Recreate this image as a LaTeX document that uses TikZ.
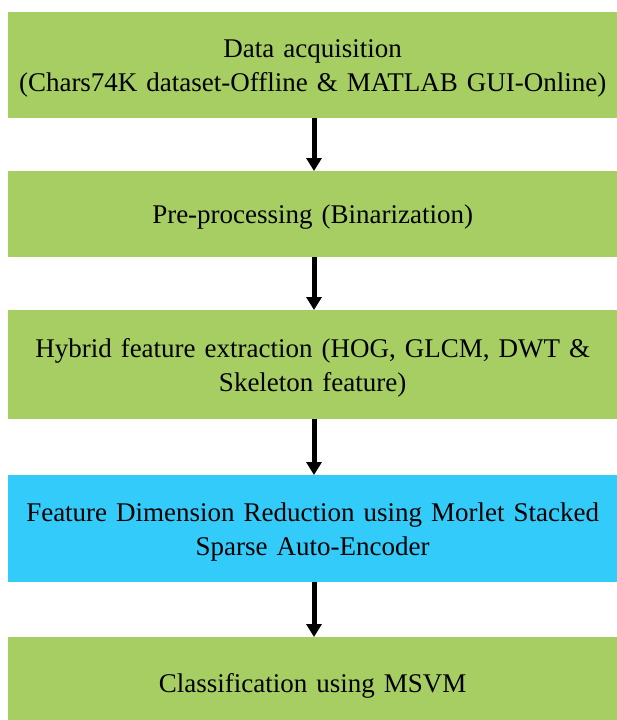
\documentclass[tikz,border=0pt]{standalone}
\usepackage{fontspec}
\setmainfont{Liberation Serif}
\usetikzlibrary{arrows.meta}
\definecolor{boxgreen}{RGB}{166,206,99}
\definecolor{boxblue}{RGB}{51,204,250}
\begin{document}
\begin{tikzpicture}[x=1pt,y=-1pt,
  stage/.style={fill=boxgreen, draw=none, anchor=north west, inner sep=0pt,
    minimum width=609pt},
  stagetext/.style={label={[font=\fontsize{27}{34}\selectfont, text width=609pt,
    align=center, inner sep=0pt, yshift=-3pt]center:#1}},
  flowarrow/.style={-{Triangle[width=15pt,length=13pt]}, line width=5pt, black}]
\useasboundingbox (0,0) rectangle (617,720);
\node[stage, minimum height=106pt, stagetext={Data acquisition\\(Chars74K dataset-Offline \& MATLAB GUI-Online)}] (a) at (8,12) {};
\node[stage, minimum height=86pt, stagetext={Pre-processing (Binarization)}] (b) at (8,171) {};
\node[stage, minimum height=109pt, stagetext={Hybrid feature extraction (HOG, GLCM, DWT \&\\Skeleton feature)}] (c) at (8,310) {};
\node[stage, fill=boxblue, minimum height=107pt, stagetext={Feature Dimension Reduction using Morlet Stacked\\Sparse Auto-Encoder}] (d) at (8,475) {};
\node[stage, minimum height=92pt, stagetext={Classification using MSVM}] (e) at (8,637) {};
\draw[flowarrow] (a.south -| 314,0) -- (b.north -| 314,0);
\draw[flowarrow] (b.south -| 314,0) -- (c.north -| 314,0);
\draw[flowarrow] (c.south -| 314,0) -- (d.north -| 314,0);
\draw[flowarrow] (d.south -| 314,0) -- (e.north -| 314,0);
\end{tikzpicture}
\end{document}
